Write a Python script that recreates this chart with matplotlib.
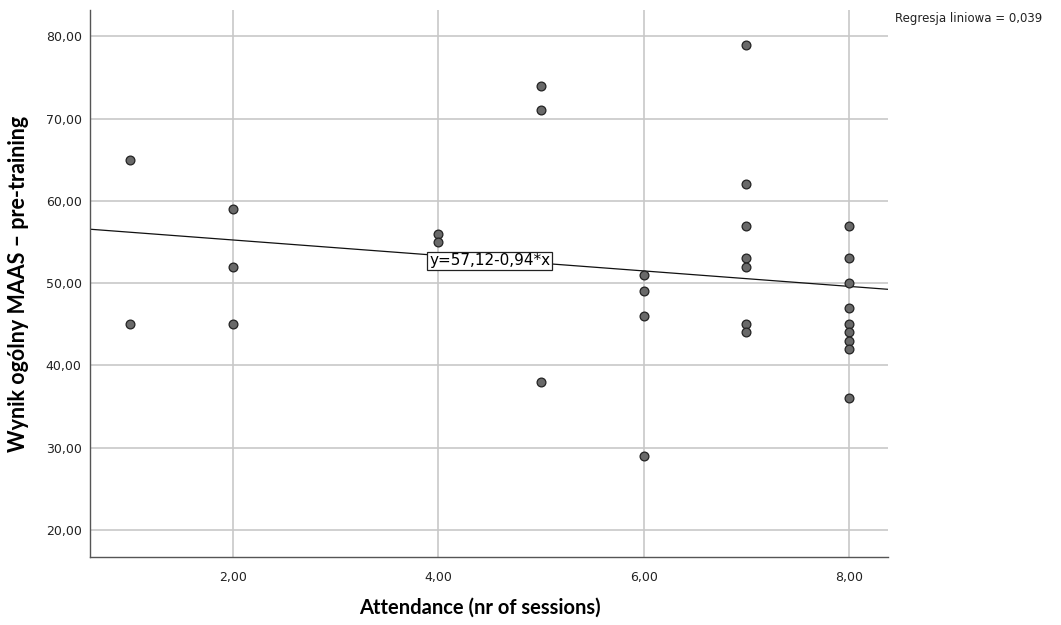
import numpy as np
import matplotlib
matplotlib.use("Agg")
import matplotlib.pyplot as plt
from matplotlib.ticker import FuncFormatter

# attendance (sessions) and MAAS pre-training scores
attendance = [1, 1,
              2, 2, 2,
              4, 4,
              5, 5, 5,
              6, 6, 6, 6,
              7, 7, 7, 7, 7, 7, 7,
              8, 8, 8, 8, 8, 8, 8, 8, 8]
maas_pre = [65, 45,
            59, 52, 45,
            56, 55,
            74, 71, 38,
            51, 49, 46, 29,
            79, 62, 57, 53, 52, 45, 44,
            57, 53, 50, 47, 45, 44, 43, 42, 36]

# fit reported by SPSS
intercept = 57.12
slope = -0.94
r2 = 0.039

x_ticks = [2, 4, 6, 8]
y_ticks = [20, 30, 40, 50, 60, 70, 80]

plt.rcParams['font.family'] = ['DejaVu Sans']

fig = plt.figure(figsize=(10.61, 6.25), dpi=100)
ax = fig.add_axes([0.0848, 0.1088, 0.7522, 0.8752])

ax.set_xlim(0.607, 8.38)
ax.set_ylim(16.7, 83.2)

ax.set_xticks(x_ticks)
ax.set_yticks(y_ticks)
comma = FuncFormatter(lambda v, p: f"{v:.2f}".replace(".", ","))
ax.xaxis.set_major_formatter(comma)
ax.yaxis.set_major_formatter(comma)
ax.tick_params(length=0, labelsize=9, colors="#222222")
ax.tick_params(axis="y", pad=6)
ax.tick_params(axis="x", pad=10)

ax.grid(True, color="#c8c8c8", linewidth=1.2)
ax.set_axisbelow(True)
for s in ["top", "right"]:
    ax.spines[s].set_visible(False)
for s in ["left", "bottom"]:
    ax.spines[s].set_color("#555555")
    ax.spines[s].set_linewidth(1)

# regression line across the full x range
xl = np.array(ax.get_xlim())
ax.plot(xl, intercept + slope * xl, color="#111111", linewidth=0.9, zorder=2)

ax.scatter(attendance, maas_pre, s=40, color="#696969", edgecolors="#222222",
           linewidths=0.9, zorder=3)

ax.text(4.5, 52.7, "y=57,12-0,94*x", fontsize=11, ha="center", va="center",
        bbox=dict(boxstyle="square,pad=0.12", facecolor="white",
                  edgecolor="#222222", linewidth=0.9), zorder=4)

fig.text(0.8435, 0.97, f"Regresja liniowa = {r2:.3f}".replace(".", ","),
         fontsize=8.5, ha="left", va="center", color="#222222")

ax.set_xlabel("Attendance (nr of sessions)", fontsize=14.5, fontweight="bold",
              family="Lato", labelpad=12)
ax.xaxis.set_label_coords(0.489, -0.074)
ax.set_ylabel("Wynik ogólny MAAS – pre-training", fontsize=15.5,
              fontweight="bold", family="Lato", labelpad=12)

fig.savefig("out.png", dpi=100)
